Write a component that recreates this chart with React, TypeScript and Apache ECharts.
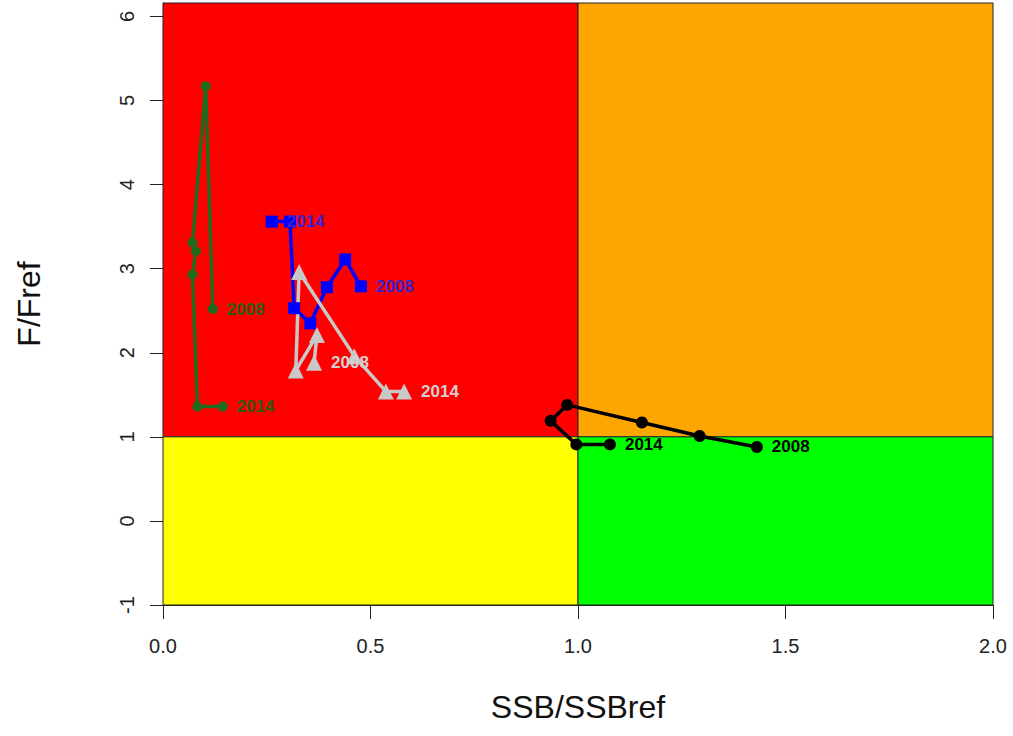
import React, { useEffect, useRef } from "react";
import * as echarts from "echarts";

const years = ["2008", "2009", "2010", "2011", "2012", "2013", "2014"];

const greenSSB = [0.12, 0.103, 0.071, 0.079, 0.071, 0.083, 0.144];
const greenF = [2.52, 5.17, 3.31, 3.21, 2.93, 1.36, 1.36];

const blueSSB = [0.477, 0.439, 0.395, 0.355, 0.316, 0.306, 0.262];
const blueF = [2.79, 3.11, 2.78, 2.35, 2.53, 3.56, 3.56];

const graySSB = [0.364, 0.371, 0.32, 0.328, 0.461, 0.537, 0.581];
const grayF = [1.88, 2.21, 1.79, 2.96, 1.96, 1.54, 1.54];

const blackSSB = [1.431, 1.293, 1.154, 0.974, 0.934, 0.996, 1.077];
const blackF = [0.88, 1.01, 1.17, 1.38, 1.19, 0.91, 0.91];

const xTicks = [0, 0.5, 1, 1.5, 2];
const yTicks = [-1, 0, 1, 2, 3, 4, 5, 6];

const X_MIN = 0;
const X_MAX = 2;
const Y_MIN = -1;
const Y_MAX = 6.16;
const SSB_REF = 1;
const F_REF = 1;

const FONT = "'Liberation Sans', Arial, Helvetica, sans-serif";

function buildData(xs: number[], ys: number[], labelColor: string) {
  return xs.map((x, i) => {
    const item: any = { value: [x, ys[i]] };
    if (i === 0 || i === xs.length - 1) {
      item.label = {
        show: true,
        formatter: years[i],
        position: "right",
        distance: 9,
        color: labelColor,
        fontFamily: FONT,
        fontWeight: "bold",
        fontSize: 17,
      };
    }
    return item;
  });
}

function makeSeries(
  name: string,
  xs: number[],
  ys: number[],
  color: string,
  symbol: string,
  symbolSize: number,
  labelColor: string
) {
  return {
    name,
    type: "line",
    data: buildData(xs, ys, labelColor),
    symbol,
    symbolSize,
    showAllSymbol: true,
    lineStyle: { color, width: 3.5 },
    itemStyle: { color },
    z: 5,
  };
}

export default function App() {
  const ref = useRef<HTMLDivElement>(null);

  useEffect(() => {
    if (!ref.current) return;
    const chart = echarts.init(ref.current, undefined, { renderer: "svg" });
    const border = { borderColor: "#222", borderWidth: 1 };
    chart.setOption({
      animation: false,
      backgroundColor: "#ffffff",
      grid: {
        left: 163,
        right: 20,
        top: 3,
        bottom: 131,
        containLabel: false,
        outerBoundsMode: "none",
      },
      xAxis: {
        type: "value",
        min: X_MIN,
        max: X_MAX,
        interval: 0.5,
        name: "SSB/SSBref",
        nameLocation: "middle",
        nameGap: 86,
        nameTextStyle: { fontFamily: FONT, fontSize: 32, color: "#111" },
        splitLine: { show: false },
        axisLine: { show: true, onZero: false, lineStyle: { color: "#222", width: 1 } },
        axisTick: { show: true, length: 14, inside: false, customValues: xTicks, lineStyle: { color: "#222" } },
        axisLabel: {
          customValues: xTicks,
          margin: 31,
          fontFamily: FONT,
          fontSize: 20,
          color: "#222",
          formatter: (v: number) => v.toFixed(1),
        },
      },
      yAxis: {
        type: "value",
        min: Y_MIN,
        max: Y_MAX,
        interval: 1,
        name: "F/Fref",
        nameLocation: "middle",
        nameGap: 118,
        nameRotate: 90,
        nameTextStyle: { fontFamily: FONT, fontSize: 32, color: "#111" },
        splitLine: { show: false },
        axisLine: { show: true, onZero: false, lineStyle: { color: "#222", width: 1 } },
        axisTick: { show: true, length: 13, inside: false, customValues: yTicks, lineStyle: { color: "#222" } },
        axisLabel: {
          customValues: yTicks,
          rotate: 90,
          margin: 26,
          fontFamily: FONT,
          fontSize: 20,
          color: "#222",
          formatter: (v: number) => (Number.isInteger(v) ? String(v) : ""),
        },
      },
      series: [
        {
          name: "zones",
          type: "line",
          data: [],
          silent: true,
          z: 1,
          markArea: {
            silent: true,
            label: { show: false },
            data: [
              [
                { xAxis: X_MIN, yAxis: F_REF, itemStyle: { color: "#ff0000", ...border } },
                { xAxis: SSB_REF, yAxis: Y_MAX },
              ],
              [
                { xAxis: SSB_REF, yAxis: F_REF, itemStyle: { color: "#ffa500", ...border } },
                { xAxis: X_MAX, yAxis: Y_MAX },
              ],
              [
                { xAxis: X_MIN, yAxis: Y_MIN, itemStyle: { color: "#ffff00", ...border } },
                { xAxis: SSB_REF, yAxis: F_REF },
              ],
              [
                { xAxis: SSB_REF, yAxis: Y_MIN, itemStyle: { color: "#00ff00", ...border } },
                { xAxis: X_MAX, yAxis: F_REF },
              ],
            ],
          },
        },
        makeSeries("Green", greenSSB, greenF, "#1e6b1e", "circle", 10, "#2c5a12"),
        makeSeries("Blue", blueSSB, blueF, "#0000ff", "rect", 12, "#3a22cc"),
        makeSeries("Gray", graySSB, grayF, "#c8c8c8", "triangle", 16, "#d6d0d0"),
        makeSeries("Black", blackSSB, blackF, "#000000", "circle", 12, "#000000"),
      ],
    });
    return () => chart.dispose();
  }, []);

  return (
    <div
      ref={ref}
      style={{ position: "fixed", left: 0, top: 0, width: 1013, height: 736 }}
    />
  );
}
